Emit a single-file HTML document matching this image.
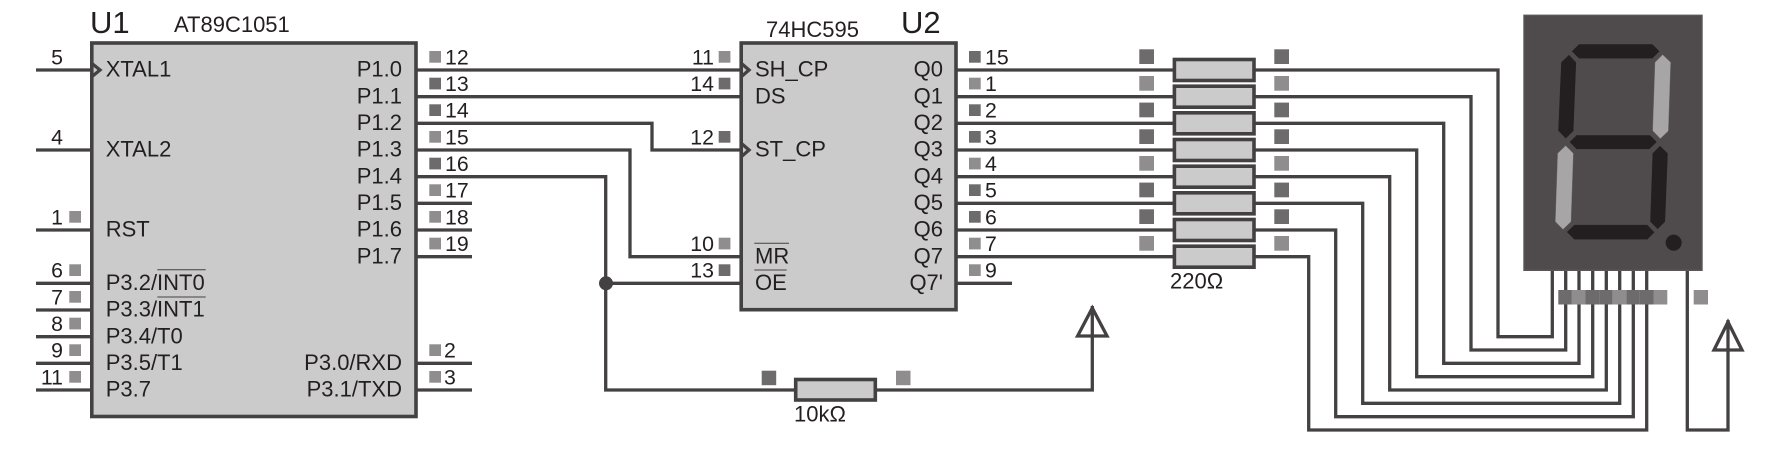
<!DOCTYPE html>
<html><head><meta charset="utf-8"><style>
html,body{margin:0;padding:0;background:#fff}
svg{display:block}
text{font-family:"Liberation Sans",sans-serif;font-size:22px;fill:#231f20}
.n text{font-size:21.3px}
.e{text-anchor:end}
.w{fill:none;stroke:#444142;stroke-width:3.3;stroke-linejoin:miter;stroke-linecap:butt}
.b{fill:#cbcbcb;stroke:#444142;stroke-width:3.6}
.d{fill:#6d6b6c}.l{fill:#8f8d8e}
.o{stroke:#444142;stroke-width:1}
.s{fill:#231f20;stroke:#5a5657;stroke-width:1}.g{fill:#a7a5a6;stroke:#6d6b6c;stroke-width:1}
</style></head><body>
<svg width="1778" height="450" viewBox="0 0 1778 450" xmlns="http://www.w3.org/2000/svg">
<rect width="1778" height="450" fill="#fff"/>
<!-- wires -->
<path class="w" d="M36 70H92M36 150H92M36 230H92M36 283.3H92M36 310H92M36 336.7H92M36 363.3H92M36 390H92"/>
<path class="w" d="M416 70H741M416 96.7H741M416 123.3H652V150H741M416 150H630V256.7H741M416 176.7H605.7V390H1092.3V306M605.7 283.3H741"/>
<path class="w" d="M416 203.3H472M416 230H472M416 256.7H472M416 363.3H472M416 390H472"/>
<path class="w" d="M956 283.3H1012"/>
<path class="w" d="M956 70H1498V336.7H1552.3V270"/>
<path class="w" d="M956 96.7H1471V350H1565.7V270"/>
<path class="w" d="M956 123.3H1443.7V363.3H1579V270"/>
<path class="w" d="M956 150H1416.7V376.7H1592.7V270"/>
<path class="w" d="M956 176.7H1389.7V390H1606.3V270"/>
<path class="w" d="M956 203.3H1362.7V403.3H1619.7V270"/>
<path class="w" d="M956 230H1335.7V416.7H1633.3V270"/>
<path class="w" d="M956 256.7H1308.7V430H1646.7V270"/>
<path class="w" d="M1687.3 270V430H1728V320"/>
<polygon class="w" points="1092.3,308 1107,336 1077.6,336"/>
<polygon class="w" points="1728,322 1742,350 1714,350"/>
<circle cx="606" cy="283.3" r="7" fill="#444142"/>
<!-- U1 -->
<rect class="b" x="91.8" y="43" width="324.2" height="373.5"/>
<polyline class="w" points="92,63.5 100,70 92,76.5"/>
<!-- U2 -->
<rect class="b" x="741.2" y="43" width="214.8" height="266.7"/>
<polyline class="w" points="741.5,63.5 749,70 741.5,76.5"/>
<polyline class="w" points="741.5,143.5 749,150 741.5,156.5"/>
<!-- resistors -->
<rect class="b" x="1174.4" y="59.5" width="79.6" height="21"/>
<rect class="b" x="1174.4" y="86.2" width="79.6" height="21"/>
<rect class="b" x="1174.4" y="112.8" width="79.6" height="21"/>
<rect class="b" x="1174.4" y="139.5" width="79.6" height="21"/>
<rect class="b" x="1174.4" y="166.2" width="79.6" height="21"/>
<rect class="b" x="1174.4" y="192.8" width="79.6" height="21"/>
<rect class="b" x="1174.4" y="219.5" width="79.6" height="21"/>
<rect class="b" x="1174.4" y="246.2" width="79.6" height="21"/>
<rect class="b" x="795.7" y="379.5" width="79.6" height="20.5"/>
<!-- small squares U1 left -->
<g class="l">
<rect x="69.3" y="211" width="11.7" height="11.7"/>
<rect x="69.3" y="264.3" width="11.7" height="11.7"/>
<rect x="69.3" y="291" width="11.7" height="11.7"/>
<rect x="69.3" y="317.7" width="11.7" height="11.7"/>
<rect x="69.3" y="344.3" width="11.7" height="11.7"/>
<rect x="69.3" y="371" width="11.7" height="11.7"/>
</g>
<!-- small squares U1 right -->
<rect class="l" x="429.3" y="51" width="11.7" height="11.7"/>
<rect class="d" x="429.3" y="77.7" width="11.7" height="11.7"/>
<rect class="d" x="429.3" y="104.3" width="11.7" height="11.7"/>
<rect class="l" x="429.3" y="131" width="11.7" height="11.7"/>
<rect class="d" x="429.3" y="157.7" width="11.7" height="11.7"/>
<rect class="l" x="429.3" y="184.3" width="11.7" height="11.7"/>
<rect class="l" x="429.3" y="211" width="11.7" height="11.7"/>
<rect class="l" x="429.3" y="237.7" width="11.7" height="11.7"/>
<rect class="l" x="429.3" y="344.3" width="11.7" height="11.7"/>
<rect class="l" x="429.3" y="371" width="11.7" height="11.7"/>
<!-- small squares U2 left -->
<rect class="l" x="718.7" y="51" width="11.7" height="11.7"/>
<rect class="d" x="718.7" y="77.7" width="11.7" height="11.7"/>
<rect class="d" x="718.7" y="131" width="11.7" height="11.7"/>
<rect class="l" x="718.7" y="237.7" width="11.7" height="11.7"/>
<rect class="d" x="718.7" y="264.3" width="11.7" height="11.7"/>
<!-- small squares U2 right -->
<rect class="d" x="969" y="51" width="11.7" height="11.7"/>
<rect class="l" x="969" y="77.7" width="11.7" height="11.7"/>
<rect class="d" x="969" y="104.3" width="11.7" height="11.7"/>
<rect class="d" x="969" y="131" width="11.7" height="11.7"/>
<rect class="l" x="969" y="157.7" width="11.7" height="11.7"/>
<rect class="d" x="969" y="184.3" width="11.7" height="11.7"/>
<rect class="d" x="969" y="211" width="11.7" height="11.7"/>
<rect class="l" x="969" y="237.7" width="11.7" height="11.7"/>
<rect class="l" x="969" y="264.3" width="11.7" height="11.7"/>
<!-- large squares -->
<rect class="d" x="1139.3" y="49.3" width="14.7" height="14.7"/><rect class="d" x="1274.3" y="49.3" width="14.7" height="14.7"/>
<rect class="l" x="1139.3" y="76" width="14.7" height="14.7"/><rect class="l" x="1274.3" y="76" width="14.7" height="14.7"/>
<rect class="d" x="1139.3" y="102.6" width="14.7" height="14.7"/><rect class="d" x="1274.3" y="102.6" width="14.7" height="14.7"/>
<rect class="d" x="1139.3" y="129.3" width="14.7" height="14.7"/><rect class="d" x="1274.3" y="129.3" width="14.7" height="14.7"/>
<rect class="l" x="1139.3" y="156" width="14.7" height="14.7"/><rect class="l" x="1274.3" y="156" width="14.7" height="14.7"/>
<rect class="d" x="1139.3" y="182.6" width="14.7" height="14.7"/><rect class="d" x="1274.3" y="182.6" width="14.7" height="14.7"/>
<rect class="d" x="1139.3" y="209.3" width="14.7" height="14.7"/><rect class="d" x="1274.3" y="209.3" width="14.7" height="14.7"/>
<rect class="l" x="1139.3" y="236" width="14.7" height="14.7"/><rect class="l" x="1274.3" y="236" width="14.7" height="14.7"/>
<rect class="d" x="761.7" y="370.7" width="14.5" height="14.5"/>
<rect class="l" x="896" y="370.7" width="14.5" height="14.5"/>
<!-- display -->
<rect x="1524" y="15.3" width="178" height="255" fill="#4f4b4c" stroke="#5a5657" stroke-width="1.4"/>
<g transform="translate(1480 0) scale(.33333)">
<polygon class="s" points="275,154 297,132 517,132 539,154 517,176 297,176"/>
<polygon class="g" points="548,164 572,187 565,393 541,416 518,392 525,187"/>
<polygon class="s" points="267,164 289,187 281,393 257,416 234,392 243,187"/>
<polygon class="s" points="268,426 290,405 510,405 531,426 508,448 290,448"/>
<polygon class="s" points="540,437 564,460 556,665 533,688 510,665 517,460"/>
<polygon class="g" points="257,437 280,460 273,665 249,688 226,665 233,460"/>
<polygon class="s" points="260,696 283,674 502,674 524,697 502,719 283,719"/>
<circle cx="581" cy="728" r="24" fill="#231f20"/>
</g>
<rect class="d" x="1558.3" y="290" width="13.6" height="14.5"/>
<rect class="l" x="1571.9" y="290" width="13.6" height="14.5"/>
<rect class="d" x="1585.5" y="290" width="13.6" height="14.5"/>
<rect class="d" x="1599.1" y="290" width="13.6" height="14.5"/>
<rect class="l" x="1612.7" y="290" width="13.6" height="14.5"/>
<rect class="d" x="1626.3" y="290" width="13.6" height="14.5"/>
<rect class="d" x="1639.9" y="290" width="13.6" height="14.5"/>
<rect class="l" x="1653.5" y="290" width="13.8" height="14.5"/>
<rect class="l" x="1693.7" y="290" width="14.3" height="14.5"/>
<!-- titles -->
<text x="90" y="33" style="font-size:31px">U1</text>
<text x="174" y="32.2">AT89C1051</text>
<text x="766" y="36.8">74HC595</text>
<text x="901" y="33" style="font-size:31px">U2</text>
<g transform="translate(0 -0.8)">
<!-- U1 left labels -->
<text x="105.7" y="77.5">XTAL1</text>
<text x="105.7" y="157.5">XTAL2</text>
<text x="105.7" y="237.5">RST</text>
<text x="105.7" y="290.8">P3.2/INT0</text>
<text x="105.7" y="317.5">P3.3/INT1</text>
<text x="105.7" y="344.2">P3.4/T0</text>
<text x="105.7" y="370.8">P3.5/T1</text>
<text x="105.7" y="397.5">P3.7</text>
<!-- U1 right labels -->
<text class="e" x="402" y="77.5">P1.0</text>
<text class="e" x="402" y="104.2">P1.1</text>
<text class="e" x="402" y="130.8">P1.2</text>
<text class="e" x="402" y="157.5">P1.3</text>
<text class="e" x="402" y="184.2">P1.4</text>
<text class="e" x="402" y="210.8">P1.5</text>
<text class="e" x="402" y="237.5">P1.6</text>
<text class="e" x="402" y="264.2">P1.7</text>
<text class="e" x="402" y="370.8">P3.0/RXD</text>
<text class="e" x="402" y="397.5">P3.1/TXD</text>
<!-- U2 labels -->
<text x="755" y="77.5">SH_CP</text>
<text x="755" y="104.2">DS</text>
<text x="755" y="157.5">ST_CP</text>
<text x="755" y="264.2">MR</text>
<text x="755" y="290.8">OE</text>
<text class="e" x="943" y="77.5">Q0</text>
<text class="e" x="943" y="104.2">Q1</text>
<text class="e" x="943" y="130.8">Q2</text>
<text class="e" x="943" y="157.5">Q3</text>
<text class="e" x="943" y="184.2">Q4</text>
<text class="e" x="943" y="210.8">Q5</text>
<text class="e" x="943" y="237.5">Q6</text>
<text class="e" x="943" y="264.2">Q7</text>
<text class="e" x="943" y="290.8">Q7'</text>
</g>
<line class="o" x1="157.3" y1="269.7" x2="205.7" y2="269.7"/>
<line class="o" x1="157.3" y1="297" x2="205.7" y2="297"/>
<line class="o" x1="754.3" y1="243.3" x2="789" y2="243.3"/>
<line class="o" x1="754.3" y1="270" x2="786.7" y2="270"/>
<g class="n">
<!-- U1 left numbers -->
<text class="e" x="63" y="64.3">5</text>
<text class="e" x="63" y="144.3">4</text>
<text class="e" x="63" y="224.3">1</text>
<text class="e" x="63" y="277.6">6</text>
<text class="e" x="63" y="304.3">7</text>
<text class="e" x="63" y="331">8</text>
<text class="e" x="63" y="357.6">9</text>
<text class="e" x="63" y="384.3">11</text>
<!-- U1 right numbers -->
<text x="445" y="64.3">12</text>
<text x="445" y="91">13</text>
<text x="445" y="117.6">14</text>
<text x="445" y="144.3">15</text>
<text x="445" y="171">16</text>
<text x="445" y="197.6">17</text>
<text x="445" y="224.3">18</text>
<text x="445" y="251">19</text>
<text x="444" y="357.6">2</text>
<text x="444" y="384.3">3</text>
<!-- U2 numbers -->
<text class="e" x="714" y="64.3">11</text>
<text class="e" x="714" y="91">14</text>
<text class="e" x="714" y="144.3">12</text>
<text class="e" x="714" y="251">10</text>
<text class="e" x="714" y="277.6">13</text>
<text x="985" y="64.3">15</text>
<text x="985" y="91">1</text>
<text x="985" y="117.6">2</text>
<text x="985" y="144.3">3</text>
<text x="985" y="171">4</text>
<text x="985" y="197.6">5</text>
<text x="985" y="224.3">6</text>
<text x="985" y="251">7</text>
<text x="985" y="277.6">9</text>
</g>
<!-- values -->
<text x="794" y="421.7">10kΩ</text>
<text x="1170" y="288.3">220Ω</text>
</svg>
</body></html>
